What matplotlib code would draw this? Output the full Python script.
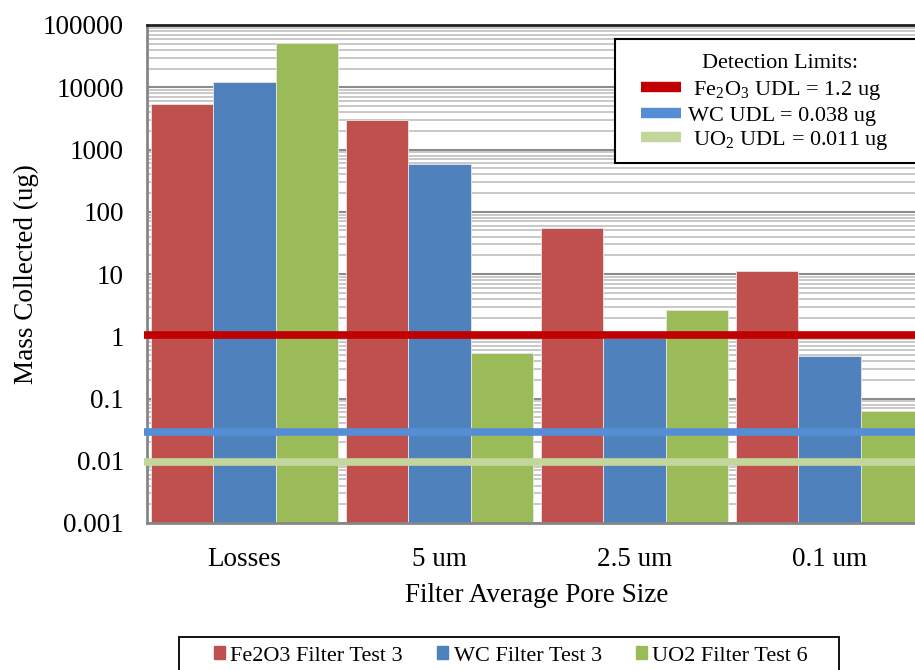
import matplotlib
matplotlib.use("Agg")
import matplotlib.pyplot as plt
import numpy as np
from matplotlib.patches import Patch, Rectangle
from matplotlib.lines import Line2D
from matplotlib.ticker import FixedLocator, NullFormatter, LogLocator

plt.rcParams['font.family'] = ['Liberation Serif', 'DejaVu Serif']
plt.rcParams['mathtext.fontset'] = 'custom'
plt.rcParams['mathtext.rm'] = 'Liberation Serif'
plt.rcParams['mathtext.it'] = 'Liberation Serif:italic'

categories = ['Losses', '5 um', '2.5 um', '0.1 um']
fe2o3 = [5400, 3000, 55, 11]
wc = [12000, 590, 0.95, 0.48]
uo2 = [52000, 0.54, 2.6, 0.062]
series_names = ['Fe2O3 Filter Test 3', 'WC Filter Test 3', 'UO2 Filter Test 6']
series_colors = ['#C0504D', '#4F81BD', '#9BBB59']

udl_values = [1.05, 0.029, 0.0095]
udl_labels = [r' Fe$_2$O$_3$ UDL = 1.2 ug', 'WC UDL = 0.038 ug', r' UO$_2$ UDL = 0.011 ug']
udl_colors = ['#C00000', '#558ED5', '#C3D69B']

yticks = [0.001, 0.01, 0.1, 1, 10, 100, 1000, 10000, 100000]
ytick_labels = ['0.001', '0.01', '0.1', '1', '10', '100', '1000', '10000', '100000']

W, H = 915, 670
fig = plt.figure(figsize=(W / 100, H / 100), dpi=100)
ax = fig.add_axes([147 / W, (H - 523) / H, 780 / W, 498 / H])
ax.set_yscale('log')
ax.set_ylim(0.001, 100000)
ax.set_xlim(-0.5, 3.5)

x = np.arange(len(categories))
w = 0.318
for i, (vals, c) in enumerate(zip([fe2o3, wc, uo2], series_colors)):
    ax.bar(x + (i - 1) * w, vals, width=w, bottom=0.001, color=c,
           edgecolor='#E6E6E6', linewidth=0.6, zorder=2)

for v, c in zip(udl_values, udl_colors):
    ax.plot([-0.515, 3.6], [v, v], color=c, linewidth=5.5, zorder=3,
            clip_on=False, solid_capstyle='butt')

ax.set_axisbelow(True)
ax.yaxis.set_major_locator(FixedLocator(yticks))
ax.set_yticklabels(ytick_labels)
ax.yaxis.set_minor_locator(LogLocator(base=10, subs=np.arange(2, 10), numticks=20))
ax.yaxis.set_minor_formatter(NullFormatter())
ax.grid(which='major', axis='y', color='#8C8C8C', linewidth=1.5)
ax.grid(which='minor', axis='y', color='#C4C4C4', linewidth=1.3)
ax.tick_params(axis='y', which='major', labelsize=19.5, length=0, pad=16.5)
ax.tick_params(axis='y', which='minor', length=0)
ax.set_xticks(x)
ax.set_xticklabels(categories)
ax.tick_params(axis='x', labelsize=19.5, length=0, pad=17)

for s in ['left', 'bottom']:
    ax.spines[s].set_color('#868686')
    ax.spines[s].set_linewidth(2)
ax.spines['top'].set_color('#202020')
ax.spines['top'].set_linewidth(2)
ax.spines['right'].set_visible(False)

ax.set_ylabel('Mass Collected (ug)', fontsize=19.5, labelpad=3)
ax.set_xlabel('Filter Average Pore Size', fontsize=19.5, labelpad=8)

# Detection-limit legend (frame drawn separately so it runs past the right edge)
fig.patches.append(Rectangle((615 / W, 1 - 163.5 / H), 330 / W, 124 / H,
                             transform=fig.transFigure, facecolor='white',
                             edgecolor='black', linewidth=1.5, zorder=5))
fig.text(780 / W, 1 - 64 / H, 'Detection Limits:', fontsize=16,
         ha='center', va='center', zorder=6)
udl_handles = [Line2D([0], [0], color=c, linewidth=7.5, solid_capstyle='butt')
               for c in udl_colors]
leg1 = fig.legend(udl_handles, udl_labels, loc='upper left',
                  bbox_to_anchor=(641 / W, 1 - 79 / H), fontsize=16,
                  frameon=False, handlelength=1.8, handletextpad=0.3,
                  labelspacing=0.15, borderpad=0, borderaxespad=0)
leg1.set_zorder(6)

# Series legend at the bottom
fig.patches.append(Rectangle((179 / W, 1 - 690 / H), 660 / W, 53 / H,
                             transform=fig.transFigure, facecolor='white',
                             edgecolor='black', linewidth=1.3, zorder=5))
bar_handles = [Patch(facecolor=c, edgecolor=c) for c in series_colors]
leg2 = fig.legend(bar_handles, series_names, loc='center left',
                  bbox_to_anchor=(214 / W, 1 - 656 / H), ncol=3, fontsize=16,
                  frameon=False, handlelength=0.5, handleheight=0.5,
                  handletextpad=0.23, columnspacing=1.55, borderpad=0,
                  borderaxespad=0)
leg2.set_zorder(6)

fig.savefig('out.png', dpi=100)
